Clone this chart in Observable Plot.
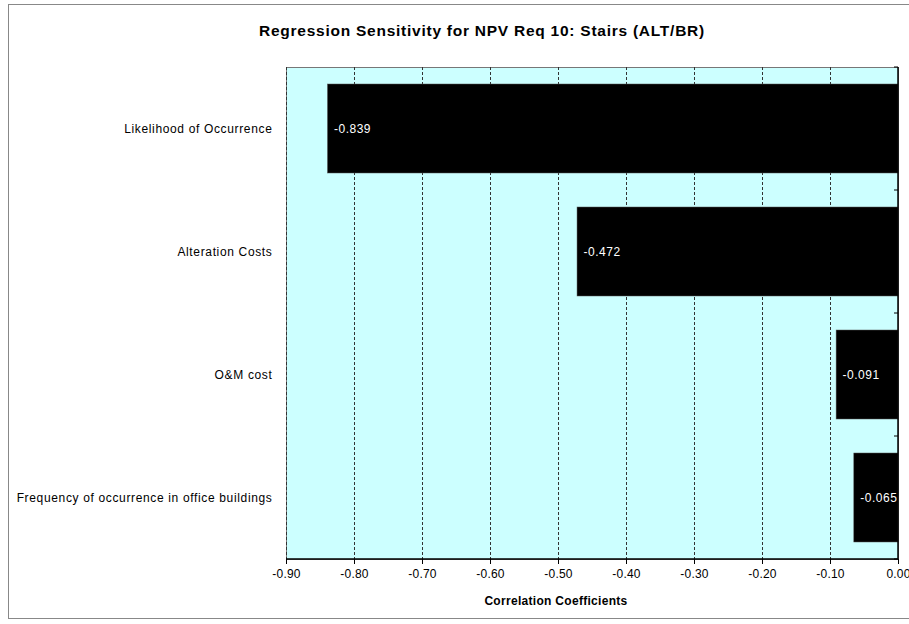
<!DOCTYPE html>
<html>
<head>
<meta charset="utf-8">
<script src="https://cdn.jsdelivr.net/npm/d3@7"></script>
<script src="https://cdn.jsdelivr.net/npm/@observablehq/plot@0.6"></script>
<style>
  html, body { margin: 0; padding: 0; background: #fff; }
  #wrap { position: relative; width: 909px; height: 624px; overflow: hidden; font-family: "Liberation Sans", Arial, sans-serif; }
  #border { position: absolute; left: 8px; top: 4px; width: 940px; height: 615px; border: 1px solid #888; box-sizing: border-box; }
  #title { position: absolute; left: 0; width: 964px; top: 22px; text-align: center; font-weight: bold; font-size: 15.5px; letter-spacing: 0.75px; color: #000; }
  #xlabel { position: absolute; left: 0; width: 1112px; top: 594px; text-align: center; font-weight: bold; font-size: 12px; letter-spacing: 0.3px; color: #000; }
  #chart { position: absolute; left: 0; top: 0; }
  #chart g[aria-label="y-axis tick label"] text { letter-spacing: 0.65px; }
  #chart g[aria-label="text"] text { letter-spacing: 0.5px; }
  #chart g[aria-label="x-axis tick label"] text { letter-spacing: 0.2px; }
</style>
</head>
<body>
<div id="wrap">
  <div id="border"></div>
  <div id="chart"></div>
  <div id="title">Regression Sensitivity for NPV Req 10: Stairs (ALT/BR)</div>
  <div id="xlabel">Correlation Coefficients</div>
</div>
<script>
const categories = [
  "Likelihood of Occurrence",
  "Alteration Costs",
  "O&M cost",
  "Frequency of occurrence in office buildings"
];
const values = [-0.839, -0.472, -0.091, -0.065];
const xTicks = [-0.9, -0.8, -0.7, -0.6, -0.5, -0.4, -0.3, -0.2, -0.1, 0];
const gridTicks = [-0.9, -0.8, -0.7, -0.6, -0.5, -0.4, -0.3, -0.2, -0.1];

const data = categories.map((c, i) => ({category: c, value: values[i]}));

const axisLines = (index, scales, vals, dims) => {
  const {x, y} = scales;
  const g = d3.create("svg:g");
  const yb = dims.height - dims.marginBottom;
  const yt = dims.marginTop;
  // bottom axis line
  g.append("line")
    .attr("x1", x(xTicks[0])).attr("x2", x(xTicks[xTicks.length - 1]))
    .attr("y1", yb).attr("y2", yb)
    .attr("stroke", "#000").attr("stroke-width", 1.5);
  // zero (category) axis line
  const x0 = x(0);
  g.append("line")
    .attr("x1", x0).attr("x2", x0)
    .attr("y1", yt).attr("y2", yb)
    .attr("stroke", "#000").attr("stroke-width", 1.5);
  // category boundary ticks
  const step = y.step ? y.step() : (yb - yt) / categories.length;
  const bw = y.bandwidth();
  const bounds = categories.map(c => y(c) - (step - bw) / 2).concat([yb]);
  for (const b of bounds) {
    g.append("line")
      .attr("x1", x0 - 4).attr("x2", x0)
      .attr("y1", b).attr("y2", b)
      .attr("stroke", "#000");
  }
  return g.node();
};

const chart = Plot.plot({
  width: 909,
  height: 624,
  marginLeft: 286,
  marginRight: 11,
  marginTop: 67,
  marginBottom: 65,
  style: {fontFamily: "'Liberation Sans', Arial, sans-serif", fontSize: "12px", color: "#000", background: "transparent"},
  x: {domain: [-0.9, 0], label: null},
  y: {domain: categories, paddingInner: 0.28, paddingOuter: 0.14, label: null},
  marks: [
    Plot.frame({fill: "#CCFFFF", stroke: "#777"}),
    Plot.ruleX(gridTicks, {stroke: "#333", strokeDasharray: "3,2", strokeWidth: 1}),
    Plot.barX(data, {x: "value", y: "category", fill: "#000", stroke: "#555", strokeWidth: 0.5}),
    Plot.text(data, {x: "value", y: "category", text: d => d.value.toFixed(3), textAnchor: "start", dx: 6, fill: "#fff", fontSize: 12}),
    axisLines,
    Plot.axisX({ticks: xTicks, tickFormat: d => d.toFixed(2), tickSize: 5, tickPadding: 5, fontSize: 12, label: null}),
    Plot.axisY({anchor: "left", tickSize: 0, tickPadding: 14, fontSize: 12, label: null})
  ]
});
document.getElementById("chart").appendChild(chart);
</script>
</body>
</html>
